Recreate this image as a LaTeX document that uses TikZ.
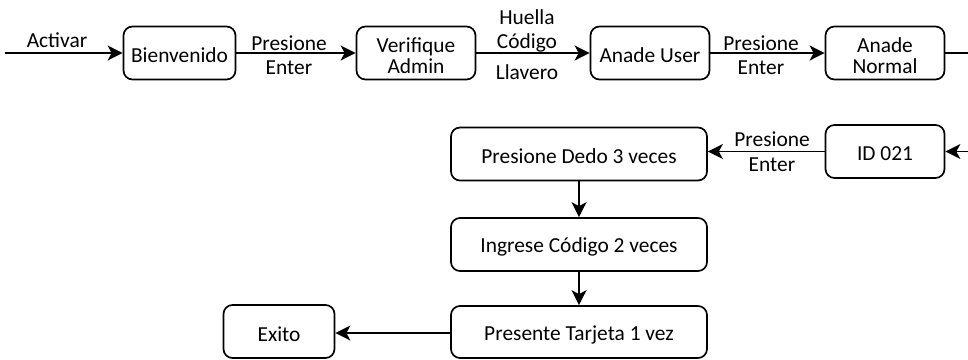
\documentclass[tikz,border=0pt]{standalone}
\usepackage{fontspec}
\setmainfont{Carlito}
\usetikzlibrary{arrows.meta}
\begin{document}
\begin{tikzpicture}[x=1pt,y=-1pt,
  box/.style={draw, line width=1.7pt, rounded corners=9pt, minimum height=53pt, inner sep=0pt},
  boxtext/.style={align=center, inner sep=0pt, yshift=-2.5pt, font=\fontsize{21.4}{21}\selectfont},
  lbl/.style={align=center, inner sep=0pt, font=\fontsize{21.4}{24.5}\selectfont},
  conn/.style={line width=1.7pt, -{Stealth[length=15pt,width=15pt,inset=4pt]}}]
\useasboundingbox (0,0) rectangle (968,359);
\clip (0,0) rectangle (968,359);
% nodes
\node[box, minimum width=112pt, label={[boxtext]center:Bienvenido}] (bien) at (179.5,53) {};
\node[box, minimum width=119pt, label={[boxtext]center:{Verifique\\Admin}}] (verif) at (416,53) {};
\node[box, minimum width=119pt, label={[boxtext]center:Anade User}] (user) at (650,53) {};
\node[box, minimum width=119pt, label={[boxtext]center:{Anade\\Normal}}] (normal) at (885,53) {};
\node[box, minimum width=119pt, label={[boxtext]center:ID 021}] (id) at (885,151.5) {};
\node[box, minimum width=256pt, label={[boxtext]center:Presione Dedo 3 veces}] (dedo) at (579,154) {};
\node[box, minimum width=256pt, label={[boxtext]center:Ingrese Código 2 veces}] (ingrese) at (579,244.5) {};
\node[box, minimum width=256pt, minimum height=52pt, label={[boxtext]center:Presente Tarjeta 1 vez}] (presente) at (579,332) {};
\node[box, minimum width=111pt, label={[boxtext]center:Exito}] (exito) at (279,331.5) {};
\coordinate (start) at (5,53);
\coordinate (rt) at (995,53);
% connectors
\draw[conn] (start) -- (bien.west);
\draw[conn] (bien.east) -- (verif.west);
\draw[conn] (verif.east) -- (user.west);
\draw[conn] (user.east) -- (normal.west);
\draw[conn] (normal.east) -- (normal.east -| rt) |- (id.east);
\draw[conn] (id.west) -- (id.west -| dedo.east);
\draw[conn] (dedo.south) -- (ingrese.north);
\draw[conn] (ingrese.south) -- (presente.north);
\draw[conn] (presente.west |- 0,333) -- (exito.east |- 0,333);
% labels
\node[lbl] (lact) at (57,40) {Activar};
\node[lbl] (l1) at (289,55) {Presione\\Enter};
\node[lbl] (l2) at (527,31) {Huella\\Código};
\node[lbl] (l3) at (527,72) {Llavero};
\node[lbl] (l4) at (761,55) {Presione\\Enter};
\node[lbl] (l5) at (772,151.5) {Presione\\Enter};
\end{tikzpicture}
\end{document}
